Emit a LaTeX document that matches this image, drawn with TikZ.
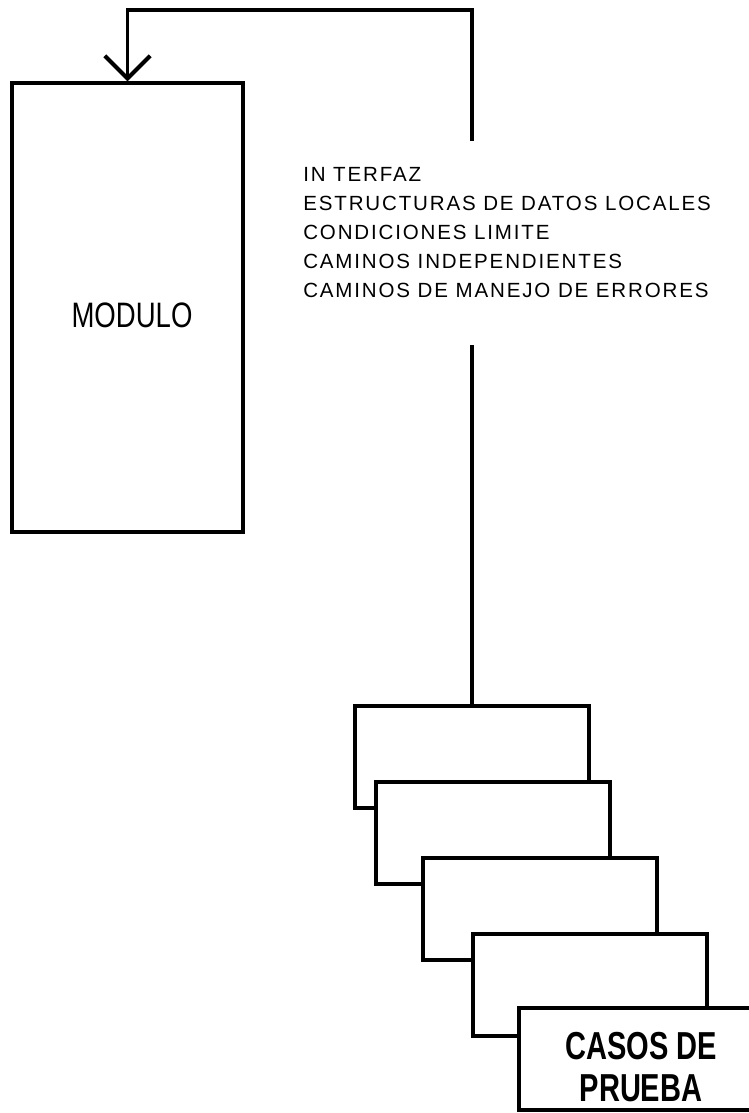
\documentclass[tikz,border=0pt]{standalone}
\usepackage{fontspec}
\setmainfont{Liberation Sans}
\newfontfamily\listfont[LetterSpace=9]{Liberation Sans}
\usetikzlibrary{arrows.meta}
\begin{document}
\begin{tikzpicture}[x=0.75pt,y=-0.75pt,
  conn/.style={line width=2.6pt},
  plainbox/.style={draw,line width=3pt,fill=white,inner sep=0pt,minimum width=175.5pt,minimum height=76.5pt},
  modbox/.style={draw,line width=2.6pt,inner sep=0pt,minimum width=173.25pt,minimum height=336.75pt},
  vtip/.style={-{Straight Barb[length=17pt,width=34pt,line width=3pt]}}]
\useasboundingbox (0,0) rectangle (749,1113);
\clip (0,0) rectangle (749,1113);
% module
\node[modbox] (module) at (127.5,307.5) {};
\node[inner sep=0pt,font=\fontsize{26.5pt}{30pt}\selectfont] (modlabel) at (132,315) {\scalebox{0.78}[1]{MODULO}};
% list of aspects
\node[inner sep=0pt,anchor=north west,align=left,font=\listfont\fontsize{15.4pt}{21.75pt}\selectfont] (aspects) at (303,167)
  {IN TERFAZ\\ESTRUCTURAS DE DATOS LOCALES\\CONDICIONES LIMITE\\CAMINOS INDEPENDIENTES\\CAMINOS DE MANEJO DE ERRORES};
% stack of test cases
\node[plainbox] (box1) at (472,757) {};
\node[plainbox] (box2) at (492.5,833) {};
\node[plainbox] (box3) at (540,908.5) {};
\node[plainbox] (box4) at (590,984.5) {};
\node[plainbox] (box5) at (636,1059) {};
\node[inner sep=0pt,align=center,font=\bfseries\fontsize{29.25pt}{31.5pt}\selectfont] (caselabel) at (641,1067)
  {\scalebox{0.745}[1]{CASOS DE}\\\scalebox{0.745}[1]{PRUEBA}};
% connector
\coordinate (gapbot) at (472,345);
\coordinate (gaptop) at (472,141);
\coordinate (topright) at (472,10);
\draw[conn] (box1.north) -- (gapbot);
\draw[conn,vtip] (gaptop) -- (topright) -| (module.north);
\end{tikzpicture}
\end{document}
